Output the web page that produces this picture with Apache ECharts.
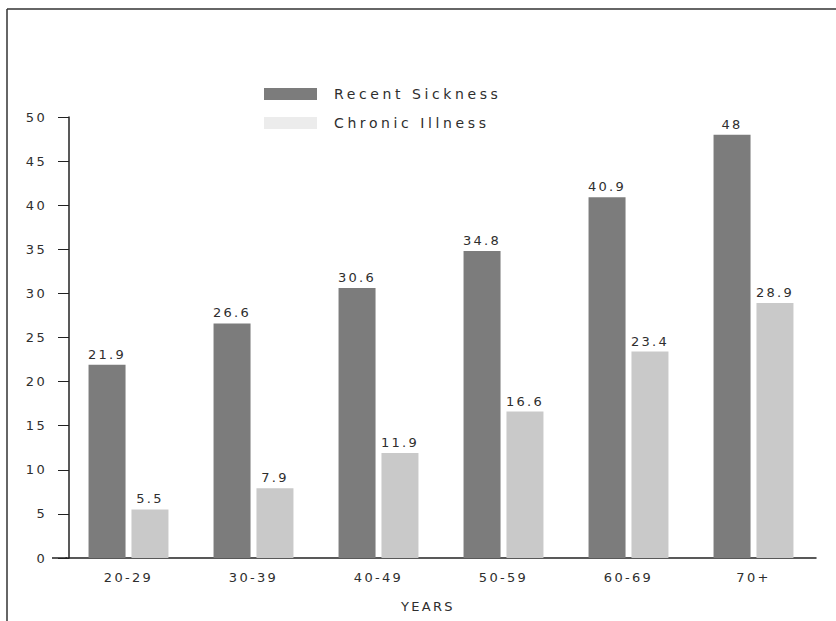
<!DOCTYPE html>
<html>
<head>
<meta charset="utf-8">
<script src="https://cdn.jsdelivr.net/npm/echarts@6/dist/echarts.min.js"></script>
<style>
  html, body { margin: 0; padding: 0; background: #fff; }
  #chart { width: 836px; height: 621px; }
  /* wide, airy lettering for every label */
  #chart text { letter-spacing: 2.3px; }
  #chart text[style*="14px"] { letter-spacing: 3.6px; }
</style>
</head>
<body>
<div id="chart"></div>
<script>
// Age groups along the horizontal axis
const ageGroups = ['20-29', '30-39', '40-49', '50-59', '60-69', '70+'];
// Share of people reporting each condition, per age group
const recentSickness = [21.9, 26.6, 30.6, 34.8, 40.9, 48];
const chronicIllness = [5.5, 7.9, 11.9, 16.6, 23.4, 28.9];
// Vertical scale
const yMin = 0;
const yMax = 50;
const yStep = 5;

const textColor = '#2e2e2e';
const axisColor = '#222222';
const fontFamily = '"DejaVu Sans", sans-serif';

const chart = echarts.init(document.getElementById('chart'), null, { renderer: 'svg' });

chart.setOption({
  backgroundColor: '#ffffff',
  animation: false,
  textStyle: { fontFamily: fontFamily, color: textColor },
  legend: {
    orient: 'vertical',
    left: 259,
    top: 81,
    itemWidth: 53,
    itemHeight: 12,
    itemGap: 13,
    icon: 'rect',
    textStyle: {
      fontSize: 14,
      lineHeight: 16,
      color: textColor,
      fontFamily: fontFamily,
      padding: [0, 0, 0, 12]
    },
    data: [
      { name: 'Recent Sickness', itemStyle: { color: '#7c7c7c' } },
      { name: 'Chronic Illness', itemStyle: { color: '#ececec' } }
    ]
  },
  grid: { left: 66, right: 20, top: 117, bottom: 63 },
  xAxis: {
    type: 'category',
    data: ageGroups,
    name: 'YEARS',
    nameLocation: 'middle',
    nameGap: 42,
    nameTextStyle: { fontSize: 13, color: textColor, padding: [0, 26, 0, 0] },
    axisLine: { show: true, lineStyle: { color: axisColor, width: 1.5 } },
    axisTick: { show: false },
    axisLabel: { fontSize: 13, color: textColor, margin: 13 },
    splitLine: { show: false }
  },
  yAxis: {
    type: 'value',
    min: yMin,
    max: yMax,
    interval: yStep,
    offset: -3,
    axisLine: { show: true, lineStyle: { color: axisColor, width: 1.5 } },
    axisTick: { show: true, length: 11, lineStyle: { color: axisColor, width: 1 } },
    axisLabel: { fontSize: 13, color: textColor, margin: 22 },
    splitLine: { show: false }
  },
  series: [
    {
      name: 'Recent Sickness',
      type: 'bar',
      data: recentSickness,
      barWidth: 37,
      barGap: '16%',
      itemStyle: { color: '#7c7c7c' },
      label: { show: true, position: 'top', distance: 4, fontSize: 13, color: textColor }
    },
    {
      name: 'Chronic Illness',
      type: 'bar',
      data: chronicIllness,
      barWidth: 37,
      barGap: '16%',
      itemStyle: { color: '#c9c9c9' },
      label: { show: true, position: 'top', distance: 4, fontSize: 13, color: textColor }
    }
  ],
  graphic: [
    // frame edges along the top and left of the figure
    { type: 'line', shape: { x1: 7, y1: 9, x2: 836, y2: 9 }, style: { stroke: '#333', lineWidth: 1.5 } },
    { type: 'line', shape: { x1: 7, y1: 9, x2: 7, y2: 621 }, style: { stroke: '#333', lineWidth: 1.5 } },
    // baseline continues a little past the vertical axis
    { type: 'line', shape: { x1: 52, y1: 558, x2: 67, y2: 558 }, style: { stroke: axisColor, lineWidth: 1.5 } }
  ]
});
</script>
</body>
</html>
